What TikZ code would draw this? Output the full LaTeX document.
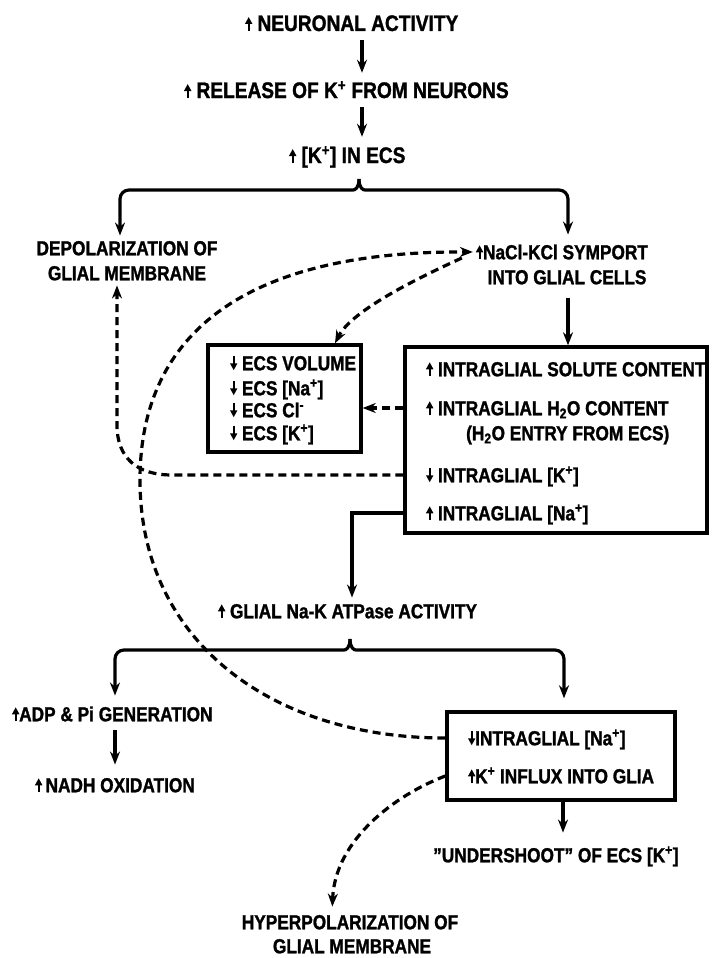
\documentclass[tikz,border=0pt]{standalone}
\usepackage{fontspec}
\setmainfont{Liberation Sans}[FakeStretch=0.85, BoldFeatures={FakeBold=1.3}]
\usetikzlibrary{arrows.meta,calc}
\newcommand\ua{\tikz[baseline=0pt]\draw[line width=2pt,-{Triangle[length=7pt,width=7pt]}] (0pt,0pt) -- (0pt,14pt);}
\newcommand\da{\tikz[baseline=0pt]\draw[line width=2pt,-{Triangle[length=7pt,width=7pt]}] (0pt,14pt) -- (0pt,0pt);}
\tikzset{
  txt/.style={inner sep=0pt, font=\bfseries\fontsize{20.3}{25}\selectfont, text height=14.5pt, text depth=0pt},
  bigtxt/.style={txt, font=\bfseries\fontsize{22.5}{28}\selectfont, text height=16pt},
  arr/.style={line width=3.2pt, -{Stealth[length=13pt,width=10pt]}},
  darr/.style={arr, dash pattern=on 8pt off 5pt},
  boxx/.style={draw, line width=3.4pt, inner sep=0pt},
}
\begin{document}
\begin{tikzpicture}[x=1pt,y=-1pt]
\fill[white] (0,0) rectangle (712,958);
\useasboundingbox (0,0) rectangle (712,958);

% top chain
\node[bigtxt, anchor=west] (n1) at (245,23) {\ua\ NEURONAL ACTIVITY};
\node[bigtxt, anchor=west] (n2) at (184,90) {\ua\ RELEASE OF K\textsuperscript{+} FROM NEURONS};
\node[bigtxt, anchor=west] (n3) at (289,155) {\ua\ [K\textsuperscript{+}] IN ECS};
\coordinate (ax) at (362,0);
\draw[arr, shorten <=9pt, shorten >=9pt] (n1.south -| ax) -- (n2.north -| ax);
\draw[arr, shorten <=9pt, shorten >=10pt] (n2.south -| ax) -- (n3.north -| ax);

% second level
\node[txt] (dep1) at (127,248) {DEPOLARIZATION OF};
\node[txt] (dep2) at (127,273) {GLIAL MEMBRANE};
\node[txt] (sym1) at (562,252) {\ua NaCl-KCl SYMPORT};
\node[txt] (sym2) at (567,277) {INTO GLIAL CELLS};

% brace 1
\coordinate (bp1) at (359,179);
\draw[arr, rounded corners=9pt, shorten >=5pt] (bp1) .. controls (359,188) and (355,190) .. (344,190) -- (120,190) -- (dep1.north -| 120,0);
\draw[arr, rounded corners=9pt, shorten >=10pt] (bp1) .. controls (359,188) and (363,190) .. (374,190) -- (568,190) -- (sym1.north -| 568,0);

% big box
\node[boxx, minimum width=302pt, minimum height=186pt] (big) at (556,440) {};
\node[txt, anchor=west] (b1) at (426,369) {\ua\ INTRAGLIAL SOLUTE CONTENT};
\node[txt, anchor=west] (b2) at (426,408) {\ua\ INTRAGLIAL H\textsubscript{2}O CONTENT};
\node[txt, anchor=west] (b3) at (466,433) {(H\textsubscript{2}O ENTRY FROM ECS)};
\node[txt, anchor=west] (b4) at (426,475) {\da\ INTRAGLIAL [K\textsuperscript{+}]};
\node[txt, anchor=west] (b5) at (426,513) {\ua\ INTRAGLIAL [Na\textsuperscript{+}]};
\draw[arr, shorten <=14pt] (sym2.south -| 568,0) -- (big.north -| 568,0);

% ECS box
\node[boxx, minimum width=153pt, minimum height=107pt] (ecs) at (284.5,398.5) {};
\node[txt, anchor=west] (e1) at (230,363) {\da\ ECS VOLUME};
\node[txt, anchor=west] (e2) at (230,388) {\da\ ECS [Na\textsuperscript{+}]};
\node[txt, anchor=west] (e3) at (230,410) {\da\ ECS Cl\textsuperscript{-}};
\node[txt, anchor=west] (e4) at (230,433) {\da\ ECS [K\textsuperscript{+}]};
\draw[darr] (big.west |- b2) -- (ecs.east |- b2);

% dashed to depolarization
\draw[darr, shorten >=5pt] (big.west |- b4) -- (172,475) .. controls (137,475) and (117,458) .. (117,425) -- (dep2.south -| 117,0);

% symport -> ECS box
\draw[darr] ($(sym1.west)+(-14,6)$) .. controls (420,277) and (352,310) .. (ecs.north -| 335,0);

% ATPase
\node[txt, anchor=west] (atp) at (218,611) {\ua\ GLIAL Na-K ATPase ACTIVITY};
\draw[arr, shorten >=6pt] (big.west |- b5) -- (352,513) -- (atp.north -| 352,0);

% lower box
\node[boxx, minimum width=228pt, minimum height=88pt] (nabox) at (561,756) {};
\node[txt, anchor=west] (nb1) at (468,738) {\da INTRAGLIAL [Na\textsuperscript{+}]};
\node[txt, anchor=west] (nb2) at (468,776) {\ua K\textsuperscript{+} INFLUX INTO GLIA};

% left branch
\node[txt, anchor=west] (adp) at (12,714) {\ua ADP \& Pi GENERATION};
\node[txt, anchor=west] (nadh) at (35,785) {\ua\,NADH OXIDATION};
\draw[arr, shorten <=9pt, shorten >=13pt] (adp.south -| 115,0) -- (nadh.north -| 115,0);

% brace 2
\coordinate (bp2) at (350,639);
\draw[arr, rounded corners=9pt, shorten >=11pt] (bp2) .. controls (350,648) and (346,650) .. (335,650) -- (115,650) -- (adp.north -| 115,0);
\draw[arr, rounded corners=9pt, shorten >=12pt] (bp2) .. controls (350,648) and (354,650) .. (365,650) -- (564,650) -- (nabox.north -| 564,0);

% undershoot
\node[txt, anchor=west] (under) at (433,855) {''UNDERSHOOT'' OF ECS [K\textsuperscript{+}]};
\draw[arr, shorten >=15pt] (nabox.south -| 563,0) -- (under.north -| 563,0);

% hyperpolarization
\node[txt] (hyp1) at (350,922) {HYPERPOLARIZATION OF};
\node[txt] (hyp2) at (352,946) {GLIAL MEMBRANE};
\draw[darr, shorten >=8pt] (nabox.west |- nb2) .. controls (395,795) and (335,840) .. (hyp1.north -| 332,0);

% big feedback curve
\draw[darr, shorten >=3pt] (nabox.west |- nb1) .. controls (270,738) and (140,640) .. (140,480) .. controls (140,330) and (250,251) .. (sym1.west);
\end{tikzpicture}
\end{document}
